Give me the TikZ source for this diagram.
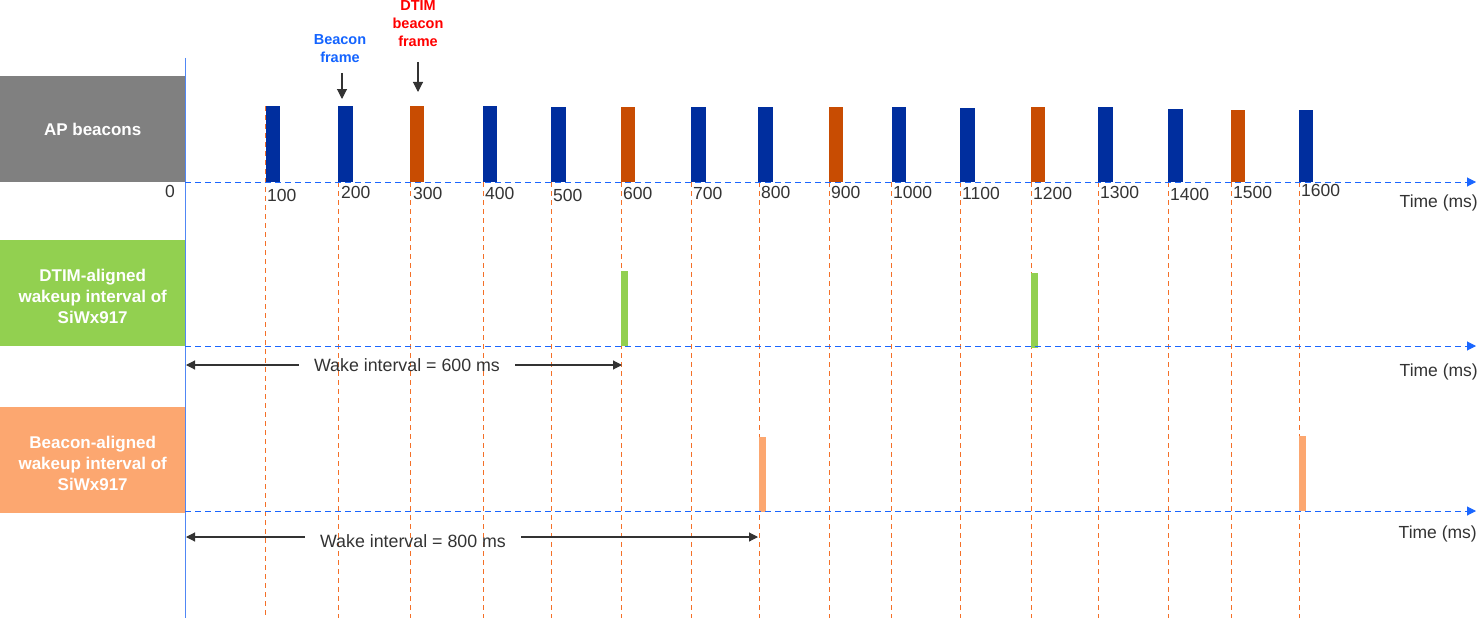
\documentclass[tikz,border=0pt]{standalone}
\usepackage{fontspec}
\setmainfont{Liberation Sans}
\usetikzlibrary{arrows.meta}
\definecolor{beaconblue}{RGB}{0,46,158}
\definecolor{dtimorange}{RGB}{200,76,2}
\definecolor{gridorange}{RGB}{244,112,40}
\definecolor{axisblue}{RGB}{26,102,255}
\definecolor{zeroblue}{RGB}{80,135,245}
\definecolor{boxgray}{RGB}{128,128,128}
\definecolor{dtimgreen}{RGB}{146,208,80}
\definecolor{lightorange}{RGB}{252,167,112}
\definecolor{textgray}{RGB}{51,51,51}
\definecolor{labelblue}{RGB}{20,100,255}
\definecolor{labelred}{RGB}{255,0,0}
\tikzset{
  rowbox/.style={fill=#1, draw=none, text=white, anchor=north west, inner sep=0pt,
    minimum width=185pt, minimum height=106pt, align=center,
    font=\fontsize{17}{21}\selectfont\bfseries},
  axisline/.style={draw=axisblue, line width=1pt, dash pattern=on 6pt off 4pt,
    -{Triangle[length=9pt,width=9pt,fill=axisblue]}},
  gridline/.style={draw=gridorange, line width=1pt, dash pattern=on 5pt off 4pt},
  ticklabel/.style={anchor=west, inner sep=0pt, text=textgray,
    font=\fontsize{17.5}{20}\selectfont},
  timelabel/.style={anchor=east, inner sep=0pt, text=textgray,
    font=\fontsize{17.5}{20}\selectfont},
  wakelabel/.style={inner xsep=15pt, inner ysep=0pt, text=textgray,
    font=\fontsize{17.8}{20}\selectfont},
  dimarrow/.style={draw=textgray, line width=1.1pt,
    -{Triangle[length=9pt,width=9pt,fill=textgray]}},
  pointer/.style={draw=textgray, line width=1.1pt,
    -{Triangle[length=10pt,width=10pt,fill=textgray]}},
  framelabel/.style={align=center, inner sep=0pt,
    font=\fontsize{14.5}{18}\selectfont\bfseries},
}
\begin{document}
\begin{tikzpicture}[x=1pt,y=-1pt]
\useasboundingbox (0,0) rectangle (1478,618);

% row label boxes
\node[rowbox=boxgray] (ap) at (0,76) {AP beacons};
\node[rowbox=dtimgreen] (dtim) at (0,240) {\rule{0pt}{19.5pt}DTIM-aligned\\wakeup interval of\\SiWx917};
\node[rowbox=lightorange] (bcn) at (0,407) {\rule{0pt}{19.5pt}Beacon-aligned\\wakeup interval of\\SiWx917};

% vertical grid lines
\foreach \x in {338,410,483,551,621,691,759,829,891,960,1031,1098,1168,1231,1299}
  \draw[gridline] (\x,182) -- (\x,618);
\draw[gridline] (265.5,106) -- (265.5,618);

% beacon bars
\foreach \x/\t/\c in {265.5/106/beaconblue, 338/106/beaconblue, 409.5/106/dtimorange,
    482.5/106/beaconblue, 551/107/beaconblue, 620.5/107/dtimorange, 691/107/beaconblue,
    758/107/beaconblue, 828.5/107/dtimorange, 891.5/107/beaconblue, 960/108/beaconblue,
    1030.5/107/dtimorange, 1098/107/beaconblue, 1168/109/beaconblue,
    1230.5/110/dtimorange, 1298.5/110/beaconblue}
  \fill[\c] (\x,\t) rectangle ++(14.5,182-\t);

% wake bars
\fill[dtimgreen] (621,271) rectangle (627.5,346);
\fill[dtimgreen] (1031,273) rectangle (1037.5,348);
\fill[lightorange] (759,437) rectangle (765.5,512);
\fill[lightorange] (1299,436) rectangle (1305.5,511);

% time origin line
\coordinate (o1) at (185,58);
\coordinate (o2) at (185,618);
\draw[zeroblue, line width=1pt] (o1) -- (o2);

% axes
\coordinate (a1s) at (185,182); \coordinate (a1e) at (1476,182);
\coordinate (a2s) at (185,346); \coordinate (a2e) at (1476,346);
\coordinate (a3s) at (185,511); \coordinate (a3e) at (1476,511);
\draw[axisline] (a1s) -- (a1e);
\draw[axisline] (a2s) -- (a2e);
\draw[axisline] (a3s) -- (a3e);

% tick labels
\node[ticklabel, anchor=center] (l0) at (170,191) {0};
\foreach \x/\y/\l in {267/195/100, 341/192/200, 413/193/300, 485/193/400,
    553/195/500, 623/193/600, 693/193/700, 761/192/800, 831/192/900,
    893/192/1000, 962/193/1100, 1033/193/1200, 1100/192/1300,
    1170/194/1400, 1233/192/1500, 1301/190/1600}
  \node[ticklabel] (l\l) at (\x,\y) {\l};

% time labels
\node[timelabel] (tm1) at (1478,203) {Time (ms)};
\node[timelabel] (tm2) at (1478,372) {Time (ms)};
\node[timelabel] (tm3) at (1477,534) {Time (ms)};

% frame labels with pointers
\node[framelabel, text=labelblue] (bf) at (340,49) {Beacon\\frame};
\node[framelabel, text=labelred] (df) at (418,24) {DTIM\\beacon\\frame};
\coordinate (bfs) at (342,73); \coordinate (bft) at (342,99);
\coordinate (dfs) at (418,62); \coordinate (dft) at (418,92);
\draw[pointer] (bfs) -- (bft);
\draw[pointer] (dfs) -- (dft);

% wake intervals
\node[wakelabel] (w6) at (407,365) {Wake interval = 600 ms};
\coordinate (w6l) at (186,365); \coordinate (w6r) at (622,365);
\draw[dimarrow] (w6.west) -- (w6l);
\draw[dimarrow] (w6.east) -- (w6r);

\node[wakelabel] (w8) at (413,541) {Wake interval = 800 ms};
\coordinate (w8l) at (186,537); \coordinate (w8r) at (758,537);
\draw[dimarrow] (w8.west |- w8l) -- (w8l);
\draw[dimarrow] (w8.east |- w8r) -- (w8r);
\end{tikzpicture}
\end{document}
